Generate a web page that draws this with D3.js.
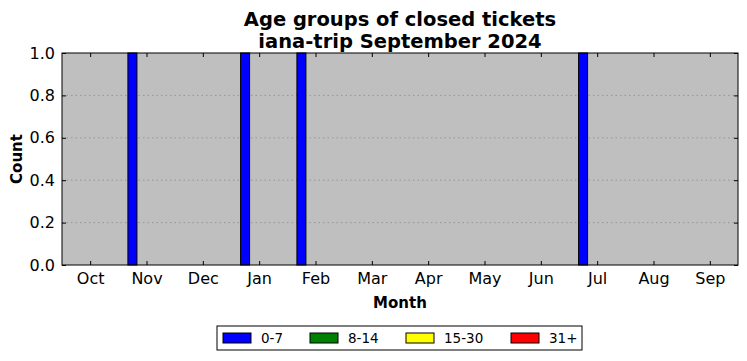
<!DOCTYPE html>
<html>
<head>
<meta charset="utf-8">
<script src="https://cdn.jsdelivr.net/npm/d3@7"></script>
<style>
  body { margin: 0; background: #fff; }
  text { font-family: "DejaVu Sans", sans-serif; }
</style>
</head>
<body>
<script>
// chart data
const months = ['Oct', 'Nov', 'Dec', 'Jan', 'Feb', 'Mar', 'Apr', 'May', 'Jun', 'Jul', 'Aug', 'Sep'];
const groups = ['0-7', '8-14', '15-30', '31+'];
const age0to7 = [0, 1, 0, 1, 1, 0, 0, 0, 0, 1, 0, 0];
const age8to14 = [0, 0, 0, 0, 0, 0, 0, 0, 0, 0, 0, 0];
const age15to30 = [0, 0, 0, 0, 0, 0, 0, 0, 0, 0, 0, 0];
const age31plus = [0, 0, 0, 0, 0, 0, 0, 0, 0, 0, 0, 0];
const yTicks = [0.0, 0.2, 0.4, 0.6, 0.8, 1.0];

const colors = ['#0000ff', '#008000', '#ffff00', '#ff0000'];
const series = [age0to7, age8to14, age15to30, age31plus];

const W = 747, H = 361;
const margin = { top: 53, right: 9, bottom: 96, left: 62 };
const width = W - margin.left - margin.right,
  height = H - margin.top - margin.bottom;

const svg = d3.select('body').append('svg')
  .attr('width', W)
  .attr('height', H);

const g = svg.append('g')
  .attr('transform', `translate(${margin.left},${margin.top})`);

// scales
const x = d3.scaleLinear().domain([-0.5, months.length - 0.5]).range([0, width]);
const y = d3.scaleLinear().domain([0, 1]).range([height, 0]);

// background
g.append('rect')
  .attr('width', width)
  .attr('height', height)
  .attr('fill', '#bfbfbf');

// horizontal grid
g.selectAll('.grid')
  .data(yTicks.slice(1, -1))
  .enter().append('line')
  .attr('x1', 0)
  .attr('x2', width)
  .attr('y1', d => y(d))
  .attr('y2', d => y(d))
  .attr('stroke', '#8c8c8c')
  .attr('stroke-width', 0.8)
  .attr('stroke-dasharray', '1.5,3');

// bars: four groups side by side in each month
const barW = 0.16;
const offsets = [-0.25, -0.08, 0.08, 0.25];
series.forEach((vals, i) => {
  g.selectAll(`.bar${i}`)
    .data(vals.map((v, j) => ({ m: j, v })).filter(d => d.v > 0))
    .enter().append('rect')
    .attr('x', d => x(d.m + offsets[i] - barW / 2))
    .attr('y', d => y(d.v))
    .attr('width', x(barW) - x(0))
    .attr('height', d => y(0) - y(d.v))
    .attr('fill', colors[i])
    .attr('stroke', '#000')
    .attr('stroke-width', 1);
});

// frame
g.append('rect')
  .attr('width', width)
  .attr('height', height)
  .attr('fill', 'none')
  .attr('stroke', '#000')
  .attr('stroke-width', 1);

// axes with inward ticks on all four sides
const xAxis = g.append('g')
  .attr('transform', `translate(0,${height})`)
  .call(d3.axisBottom(x).tickValues(d3.range(months.length))
    .tickFormat(i => months[i]).tickSizeInner(-4).tickSizeOuter(0).tickPadding(8));
g.append('g')
  .call(d3.axisTop(x).tickValues(d3.range(months.length))
    .tickFormat('').tickSizeInner(-4).tickSizeOuter(0));
const yAxis = g.append('g')
  .call(d3.axisLeft(y).tickValues(yTicks).tickFormat(d3.format('.1f'))
    .tickSizeInner(-4).tickSizeOuter(0).tickPadding(7));
g.append('g')
  .attr('transform', `translate(${width},0)`)
  .call(d3.axisRight(y).tickValues(yTicks).tickFormat('')
    .tickSizeInner(-4).tickSizeOuter(0));

g.selectAll('.domain').remove();
g.selectAll('.tick line').attr('stroke', '#000');
xAxis.selectAll('text').style('font-size', '16px').attr('fill', '#000');
yAxis.selectAll('text').style('font-size', '16px').attr('fill', '#000');

// titles
svg.append('text')
  .attr('x', margin.left + width / 2)
  .attr('y', 26)
  .attr('text-anchor', 'middle')
  .style('font-size', '19.5px')
  .style('font-weight', 'bold')
  .text('Age groups of closed tickets');
svg.append('text')
  .attr('x', margin.left + width / 2)
  .attr('y', 48)
  .attr('text-anchor', 'middle')
  .style('font-size', '19.5px')
  .style('font-weight', 'bold')
  .text('iana-trip September 2024');

// axis labels
svg.append('text')
  .attr('x', margin.left + width / 2)
  .attr('y', 308)
  .attr('text-anchor', 'middle')
  .style('font-size', '15px')
  .style('font-weight', 'bold')
  .text('Month');
svg.append('text')
  .attr('transform', `translate(22,${margin.top + height / 2}) rotate(-90)`)
  .attr('text-anchor', 'middle')
  .style('font-size', '15px')
  .style('font-weight', 'bold')
  .text('Count');

// legend
const legend = svg.append('g').attr('transform', 'translate(217,326)');
legend.append('rect')
  .attr('width', 365)
  .attr('height', 24)
  .attr('fill', '#fff')
  .attr('stroke', '#000')
  .attr('stroke-width', 1);
const legX = [6, 93, 189, 294];
groups.forEach((name, i) => {
  legend.append('rect')
    .attr('x', legX[i])
    .attr('y', 7)
    .attr('width', 28)
    .attr('height', 10)
    .attr('fill', colors[i])
    .attr('stroke', '#000')
    .attr('stroke-width', 1);
  legend.append('text')
    .attr('x', legX[i] + 38)
    .attr('y', 17)
    .style('font-size', '13.5px')
    .text(name);
});
</script>
</body>
</html>
